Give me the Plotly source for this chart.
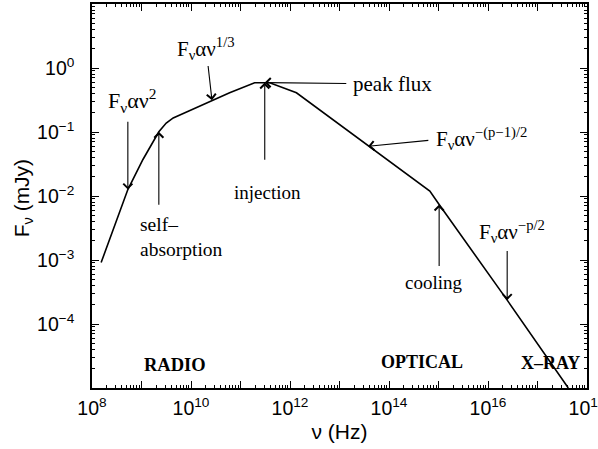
import numpy as np
import plotly.graph_objects as go

# Afterglow synchrotron spectrum: frequency (Hz) and flux density (mJy)
nu_hz = [1.53e8, 5.3e8, 1.07e9, 2.24e9, 3.16e9, 4.37e9, 7.94e9, 2.65e10,
         6.03e10, 1.93e11, 3.09e11, 3.89e11, 1.35e12, 7.24e12, 3.79e13,
         6.68e14, 1.03e15, 2.44e16, 4.19e17]
flux_mjy = [9.12e-4, 1.26e-2, 3.72e-2, 0.1007, 0.138, 0.166, 0.204, 0.314,
            0.41, 0.587, 0.592, 0.587, 0.41, 0.157, 0.060,
            0.0119, 0.00736, 2.36e-4, 1.0e-5]

# Index of the spectrum point each arrow points at
i_nu2, i_selfabs, i_nu13, i_peak, i_slow, i_cool, i_fast = 1, 3, 7, 10, 14, 16, 17

x_tickvals = [10.0 ** k for k in range(8, 19)]
x_ticktext = [f"10<sup>{k}</sup>" if k % 2 == 0 else " " for k in range(8, 19)]
y_tickvals = [10.0 ** k for k in range(-5, 2)]
y_ticktext = [" ", "10<sup>−4</sup>", "10<sup>−3</sup>", "10<sup>−2</sup>",
              "10<sup>−1</sup>", "10<sup>0</sup>", " "]

x_minor = [m * 10.0 ** k for k in range(8, 18) for m in range(2, 10)]
y_minor = [m * 10.0 ** k for k in range(-5, 1) for m in range(2, 10)]

fig = go.Figure()
fig.add_trace(go.Scatter(x=nu_hz, y=flux_mjy, mode="lines",
                         line=dict(color="black", width=1.6),
                         showlegend=False, hoverinfo="skip"))

serif = "Liberation Serif, Times New Roman, serif"
sans = "Liberation Sans, Arial, sans-serif"


def lg(v):
    return float(np.log10(v))


def arrow(i, tail_x, tail_y):
    fig.add_annotation(x=lg(nu_hz[i]), y=lg(flux_mjy[i]), ax=tail_x, ay=tail_y,
                       axref="x", ayref="y", xref="x", yref="y", text="",
                       showarrow=True, arrowhead=4, arrowsize=1.6,
                       arrowwidth=1.1, arrowcolor="black", standoff=0)


def label(x, y, text, size=19, anchor="center", bold=False):
    fig.add_annotation(x=x, y=y, xref="x", yref="y", text=text, showarrow=False,
                       xanchor=anchor, yanchor="middle", align="left",
                       font=dict(family=serif, size=size, color="black",
                                 weight="bold" if bold else "normal"))


arrow(i_nu2, lg(nu_hz[i_nu2]), -0.816)
arrow(i_nu13, 10.342, 0.055)
arrow(i_selfabs, lg(nu_hz[i_selfabs]), -2.159)
arrow(i_peak, lg(nu_hz[i_peak]), -1.456)
arrow(i_peak, 13.167, -0.242)
arrow(i_slow, 14.825, -1.128)
arrow(i_cool, lg(nu_hz[i_cool]), -3.117)
arrow(i_fast, lg(nu_hz[i_fast]), -2.836)

label(8.81, -0.50, "F<sub>ν</sub>αν<sup>2</sup>", size=22)
label(10.31, 0.30, "F<sub>ν</sub>αν<sup>1/3</sup>", size=21)
label(8.922, -2.648, "self–<br>absorption", size=19.5, anchor="left")
label(11.549, -1.945, "injection", size=19)
label(13.228, -0.25, "peak flux", size=21, anchor="left")
label(15.876, -1.10, "F<sub>ν</sub>αν<sup>−(p−1)/2</sup>", size=21)
label(14.906, -3.352, "cooling", size=19)
label(16.477, -2.555, "F<sub>ν</sub>αν<sup>−p/2</sup>", size=21)

label(9.685, -4.633, "RADIO", size=18.5, bold=True)
label(14.673, -4.586, "OPTICAL", size=18, bold=True)
label(17.27, -4.602, "X–RAY", size=18, bold=True)

# Vertical axis title, placed as a rotated label beside the plot
fig.add_annotation(x=-0.1405, y=0.495, xref="paper", yref="paper",
                   text="F<sub>ν</sub> (mJy)", textangle=-90, showarrow=False,
                   xanchor="center", yanchor="middle",
                   font=dict(family=sans, size=21, color="black"))

axis_common = dict(type="log", showgrid=False, zeroline=False,
                   showline=True, linecolor="black", linewidth=1.5,
                   ticks="inside", ticklen=7, tickwidth=1.2, tickcolor="black",
                   mirror="allticks", ticklabeloverflow="allow",
                   tickfont=dict(family=sans, size=19.5, color="black"))

fig.update_xaxes(**axis_common, range=[8, 18], tickmode="array",
                 tickvals=x_tickvals, ticktext=x_ticktext,
                 ticklabelstandoff=2,
                 minor=dict(ticks="inside", ticklen=3.5, tickwidth=1,
                            tickcolor="black", tickvals=x_minor),
                 title=dict(text="ν (Hz)", standoff=6,
                            font=dict(family=sans, size=21, color="black")))
fig.update_yaxes(**axis_common, range=[-5, 1], tickmode="array",
                 tickvals=y_tickvals, ticktext=y_ticktext,
                 ticklabelstandoff=12,
                 minor=dict(ticks="inside", ticklen=3.5, tickwidth=1,
                            tickcolor="black", tickvals=y_minor))

fig.update_layout(width=598, height=449,
                  margin=dict(l=92, r=11, t=4, b=61, autoexpand=False),
                  paper_bgcolor="white", plot_bgcolor="white")

fig.write_html("out.html")
